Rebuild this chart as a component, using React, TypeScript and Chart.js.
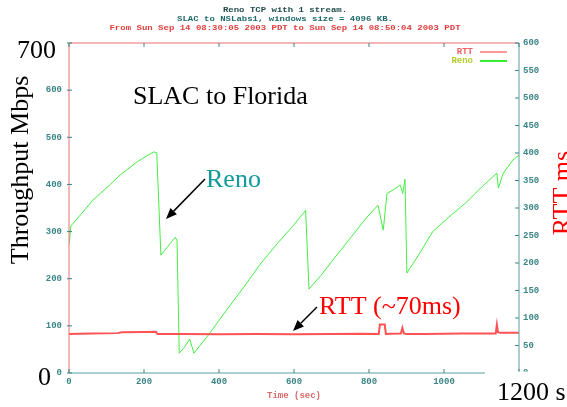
import React, { useEffect, useRef } from 'react';
import { Chart, registerables } from 'chart.js';

Chart.register(...registerables);

const titleLines = [
  'Reno TCP with 1 stream.',
  'SLAC to NSLabs1, windows size = 4096 KB.',
  'From Sun Sep 14 08:30:05 2003 PDT to Sun Sep 14 08:50:04 2003 PDT',
];
const titleColors = ['#1e4a4a', '#1f6a6a', '#e03c3c'];

const xTickValues = [0, 200, 400, 600, 800, 1000, 1200];
const leftTickValues = [0, 100, 200, 300, 400, 500, 600, 700];
const rightTickValues = [0, 50, 100, 150, 200, 250, 300, 350, 400, 450, 500, 550, 600];

const renoTime = [0, 5, 30, 64, 109, 136, 182, 208, 226, 234, 245, 263, 283, 288, 294, 308, 322, 333, 371, 417, 466, 509, 556, 595, 631, 640, 675, 704, 754, 795, 824, 838, 848, 868, 883, 890, 896, 901, 932, 970, 1012, 1061, 1101, 1141, 1145, 1158, 1184, 1200];
const renoMbps = [272, 312, 335, 367, 399, 420, 448, 461, 469, 467, 250, 268, 288, 282, 42, 55, 72, 42, 80, 130, 182, 230, 275, 310, 345, 178, 210, 240, 290, 331, 356, 303, 381, 390, 399, 381, 411, 212, 250, 300, 330, 363, 395, 424, 392, 424, 452, 462];

const rttTime = [0, 60, 130, 140, 200, 232, 236, 300, 400, 500, 600, 700, 780, 826, 829, 842, 845, 860, 885, 889, 893, 900, 950, 1000, 1050, 1100, 1138, 1141, 1144, 1150, 1200];
const rttMs = [71, 72, 72.5, 74, 74.5, 75, 71, 71, 70.5, 71, 70.5, 71, 71.5, 71, 88, 88, 71, 71.5, 72, 82, 72, 71, 71, 71.5, 72, 72, 72, 88, 74, 73, 73];

const tickColor = '#3b8585';
const axisRed = '#e87070';
const axisTeal = '#5a9e9e';
const serif = '"Liberation Serif", "Times New Roman", serif';
const mono = '"Liberation Mono", "DejaVu Sans Mono", monospace';

function arrow(ctx: CanvasRenderingContext2D, x1: number, y1: number, x2: number, y2: number) {
  const ang = Math.atan2(y2 - y1, x2 - x1);
  const len = 11;
  const hw = 4.5;
  const bx = x2 - len * Math.cos(ang);
  const by = y2 - len * Math.sin(ang);
  ctx.strokeStyle = '#000';
  ctx.fillStyle = '#000';
  ctx.lineWidth = 1.5;
  ctx.beginPath();
  ctx.moveTo(x1, y1);
  ctx.lineTo(bx, by);
  ctx.stroke();
  ctx.beginPath();
  ctx.moveTo(x2, y2);
  ctx.lineTo(bx + hw * Math.sin(ang), by - hw * Math.cos(ang));
  ctx.lineTo(bx - hw * Math.sin(ang), by + hw * Math.cos(ang));
  ctx.closePath();
  ctx.fill();
}

const overlayPlugin = {
  id: 'overlay',
  afterDraw(chart: any) {
    const { ctx, chartArea: a, scales } = chart;
    ctx.save();
    const seg = (x1: number, y1: number, x2: number, y2: number, c: string, w = 1) => {
      ctx.strokeStyle = c;
      ctx.lineWidth = w;
      ctx.beginPath();
      ctx.moveTo(x1, y1);
      ctx.lineTo(x2, y2);
      ctx.stroke();
    };
    // frame
    seg(a.left, a.top, a.right, a.top, axisRed);
    seg(a.left, a.top, a.left, a.bottom, axisRed);
    seg(a.left, a.bottom, a.right, a.bottom, axisTeal);
    seg(a.right, a.top, a.right, a.bottom, axisTeal);
    // tick marks
    leftTickValues.forEach((v) => {
      const y = scales.y.getPixelForValue(v);
      seg(a.left - 2, y, a.left + 3, y, tickColor);
    });
    rightTickValues.forEach((v) => {
      const y = scales.y1.getPixelForValue(v);
      seg(a.right - 4, y, a.right, y, tickColor);
    });
    xTickValues.forEach((v) => {
      const x = scales.x.getPixelForValue(v);
      seg(x, a.bottom - 4, x, a.bottom, tickColor);
      seg(x, a.top, x, a.top + 4, tickColor);
    });

    // title lines
    ctx.font = 'bold 9px ' + mono;
    ctx.textAlign = 'center';
    ctx.textBaseline = 'middle';
    const ty = [10, 19.3, 28.3];
    titleLines.forEach((t, i) => {
      ctx.save();
      ctx.translate(285, ty[i]);
      ctx.scale(1, 0.8);
      ctx.fillStyle = titleColors[i];
      ctx.fillText(t, 0, 0);
      ctx.restore();
    });

    // legend
    ctx.textAlign = 'right';
    ctx.fillStyle = '#f06060';
    ctx.fillText('RTT', 473, 52);
    ctx.fillStyle = '#b0cc30';
    ctx.fillText('Reno', 473, 61);
    seg(480, 52, 507, 52, '#ff7878', 1.5);
    seg(480, 61, 507, 61, '#33ee33', 2);

    // big annotations
    ctx.textBaseline = 'alphabetic';
    ctx.textAlign = 'left';
    ctx.font = '26px ' + serif;
    ctx.fillStyle = '#000';
    ctx.fillText('700', 17, 58);
    ctx.fillText('0', 38, 385);
    ctx.fillText('SLAC to Florida', 133, 104);

    ctx.fillStyle = '#fff';
    ctx.fillRect(485, 371.5, 82, 36);
    ctx.fillStyle = '#000';
    ctx.fillText('1200 s', 497, 400);

    ctx.fillStyle = '#119a9a';
    ctx.fillText('Reno', 206, 187);
    ctx.fillStyle = '#ff0000';
    ctx.fillText('RTT (~70ms)', 319, 314);

    ctx.save();
    ctx.translate(28, 170);
    ctx.rotate(-Math.PI / 2);
    ctx.textAlign = 'center';
    ctx.fillStyle = '#000';
    ctx.fillText('Throughput Mbps', 0, 0);
    ctx.restore();

    ctx.save();
    ctx.translate(570, 193);
    ctx.rotate(-Math.PI / 2);
    ctx.textAlign = 'center';
    ctx.fillStyle = '#ff0000';
    ctx.fillText('RTT ms', 0, 0);
    ctx.restore();

    arrow(ctx, 205, 179, 166, 219);
    arrow(ctx, 317, 307, 293, 331);
    ctx.restore();
  },
};

export default function App() {
  const ref = useRef<HTMLCanvasElement>(null);
  useEffect(() => {
    const canvas = ref.current;
    if (!canvas) return;
    const tickFont = { family: mono, size: 9, weight: 'bold' };
    const chart = new Chart(canvas, {
      type: 'line',
      data: {
        datasets: [
          {
            label: 'RTT',
            data: rttTime.map((t, i) => ({ x: t, y: rttMs[i] })),
            yAxisID: 'y1',
            borderColor: '#ff5252',
            borderWidth: 2,
            pointRadius: 0,
            tension: 0,
          },
          {
            label: 'Reno',
            data: renoTime.map((t, i) => ({ x: t, y: renoMbps[i] })),
            yAxisID: 'y',
            borderColor: '#44ee44',
            borderWidth: 1,
            pointRadius: 0,
            tension: 0,
          },
        ],
      },
      options: {
        responsive: false,
        animation: false,
        devicePixelRatio: 1,
        layout: { padding: { top: 43, left: 0, right: 0, bottom: 0 } },
        plugins: { legend: { display: false }, tooltip: { enabled: false }, title: { display: false } },
        scales: {
          x: {
            type: 'linear',
            min: 0,
            max: 1200,
            afterBuildTicks: (s: any) => {
              s.ticks = xTickValues.map((v) => ({ value: v }));
            },
            afterFit: (s: any) => {
              s.height = 34;
            },
            grid: { display: false, drawTicks: false },
            border: { display: false },
            ticks: {
              color: tickColor,
              font: tickFont,
              padding: 3,
              maxRotation: 0,
              autoSkip: false,
              callback: (v: any) => String(v),
            },
            title: {
              display: true,
              text: 'Time (sec)',
              color: '#d86a6a',
              font: { family: mono, size: 9, weight: 'bold' },
              padding: { top: 0, bottom: 5.5 },
            },
          },
          y: {
            type: 'linear',
            position: 'left',
            min: 0,
            max: 700,
            afterBuildTicks: (s: any) => {
              s.ticks = leftTickValues.map((v) => ({ value: v }));
            },
            afterFit: (s: any) => {
              s.width = 69;
            },
            grid: { display: false, drawTicks: false },
            border: { display: false },
            ticks: {
              color: tickColor,
              font: tickFont,
              padding: 7,
              autoSkip: false,
              callback: (v: any) => (v === 700 ? '' : String(v)),
            },
          },
          y1: {
            type: 'linear',
            position: 'right',
            min: 0,
            max: 600,
            afterBuildTicks: (s: any) => {
              s.ticks = rightTickValues.map((v) => ({ value: v }));
            },
            afterFit: (s: any) => {
              s.width = 48;
            },
            grid: { display: false, drawTicks: false },
            border: { display: false },
            ticks: {
              color: tickColor,
              font: tickFont,
              padding: 4,
              autoSkip: false,
              callback: (v: any) => String(v),
            },
          },
        },
      } as any,
      plugins: [overlayPlugin],
    });
    return () => chart.destroy();
  }, []);
  return (
    <div style={{ position: 'fixed', left: 0, top: 0, width: 567, height: 407, background: '#fff' }}>
      <canvas ref={ref} width={567} height={407} style={{ display: 'block', width: 567, height: 407 }} />
    </div>
  );
}
